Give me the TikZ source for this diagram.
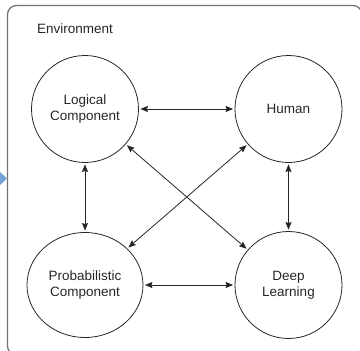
\documentclass[tikz,border=0pt]{standalone}
\usepackage{fontspec}
\setmainfont{Liberation Sans}
\usetikzlibrary{shapes.geometric,arrows.meta}
\begin{document}
\begin{tikzpicture}[x=1pt,y=-1pt,
  comp/.style={circle,draw=black!85,line width=0.8pt,minimum size=107pt,inner sep=0pt,
    align=center,font=\fontsize{13.5}{16}\selectfont,text=black!85},
  link/.style={line width=0.8pt,draw=black!85,
    {Stealth[length=7.5pt,width=6pt,inset=1pt]}-{Stealth[length=7.5pt,width=6pt,inset=1pt]},
    shorten <=1.5pt,shorten >=1.5pt}]
\useasboundingbox (0,0) rectangle (360,351);
\clip (0,0) rectangle (360,351);
\draw[draw=black!55,line width=1.3pt,rounded corners=9pt] (7.5,5.5) rectangle (362,355);
\fill[cyan!50!blue!55!white] (-2,170) -- (7,178.5) -- (-2,187) -- cycle;
\node[anchor=base west,font=\fontsize{13.5}{16}\selectfont,text=black!85,inner sep=0pt] (env) at (37,33) {Environment};
\node[comp] (L) at (85,109) {Logical\\Component};
\node[comp] (H) at (288.5,109) {Human};
\node[comp,ellipse,minimum width=116pt,minimum height=105pt] (P) at (85,285) {Probabilistic\\Component};
\node[comp] (D) at (288.5,285) {Deep\\Learning};
\draw[link] (L) -- (H);
\draw[link] (L) -- (P);
\draw[link] (H) -- (D);
\draw[link] (P) -- (D);
\draw[link] (L) -- (D);
\draw[link] (H) -- (P);
\end{tikzpicture}
\end{document}
